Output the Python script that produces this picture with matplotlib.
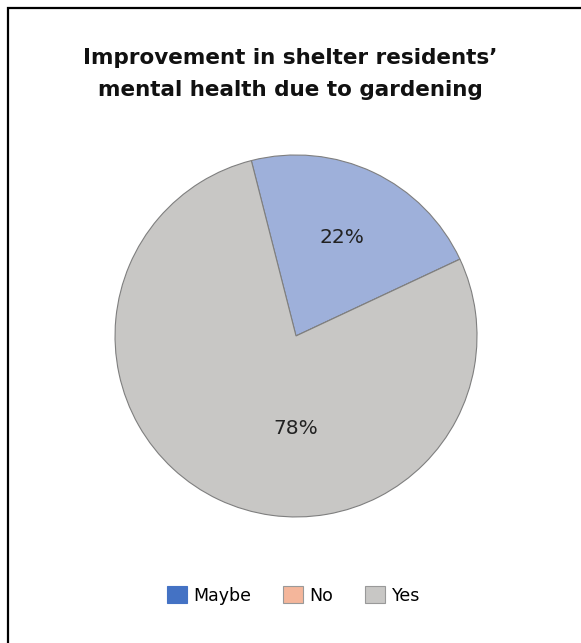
import matplotlib.pyplot as plt
from matplotlib.patches import Patch, Rectangle

# data
labels = ["Maybe", "No", "Yes"]
values = [22, 0, 78]
slice_colors = ["#9eb0da", "#f4b69b", "#c8c7c5"]
legend_colors = ["#4472c4", "#f4b69b", "#c8c7c5"]
title = "Improvement in shelter residents’\nmental health due to gardening"

plt.rcParams['font.family'] = ['DejaVu Sans']

fig = plt.figure(figsize=(5.81, 6.43), dpi=100)

# black frame on top and left (cut off at right/bottom)
fig.patches.append(Rectangle((7.5 / 581, -0.05), 1.2, 1 - 7.5 / 643 + 0.05,
                             transform=fig.transFigure, fill=False,
                             edgecolor="black", linewidth=1.6))

ax = fig.add_axes([0.198, 0.196, 0.623, 0.563])


def pct(p):
    return "" if p < 0.5 else "%d%%" % round(p)


wedges, texts, autotexts = ax.pie(values, colors=slice_colors, startangle=104.3,
                                  counterclock=False, autopct=pct, pctdistance=0.6,
                                  wedgeprops=dict(edgecolor="#7f7f7f", linewidth=0.8),
                                  textprops=dict(fontsize=14.5, color="#222222"))
# big slice label sits lower, near the middle
autotexts[2].set_position((0, -0.51))
ax.set_xlim(-1, 1)
ax.set_ylim(-1, 1)
ax.set_aspect('equal')

fig.text(0.499, 0.885, title, ha="center", va="center", fontsize=15.5,
         fontweight="bold", color="#111111", linespacing=1.7)

handles = [Patch(facecolor=c, edgecolor="#999999" if i else c, linewidth=0.8)
           for i, c in enumerate(legend_colors)]
fig.legend(handles, labels, loc="center", bbox_to_anchor=(0.505, 0.074), ncol=3,
           frameon=False, fontsize=12.5, handlelength=1.15, handleheight=1.15,
           handletextpad=0.4, columnspacing=1.8)

fig.savefig("out.png", dpi=100)
